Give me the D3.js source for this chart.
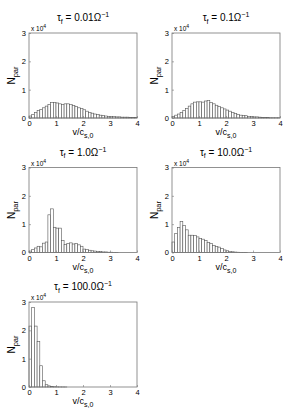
<!DOCTYPE html>
<html><head><meta charset="utf-8">
<script src="https://cdn.jsdelivr.net/npm/d3@7"></script>
<style>body{margin:0;background:#fff;} text{font-family:"Liberation Sans",Arial,sans-serif;}</style>
</head><body>
<svg id="c" width="293" height="419"></svg>
<script>
// bin left edges (v/c_s,0), bin width 0.1
const binEdges = [0.0,0.1,0.2,0.3,0.4,0.5,0.6,0.7,0.8,0.9,1.0,1.1,1.2,1.3,1.4,1.5,1.6,1.7,1.8,1.9,
                  2.0,2.1,2.2,2.3,2.4,2.5,2.6,2.7,2.8,2.9,3.0,3.1,3.2,3.3,3.4,3.5,3.6,3.7,3.8,3.9];
const binWidth = 0.1;
// counts in units of 1e4
const tau001 = [0.07,0.12,0.20,0.26,0.30,0.36,0.42,0.48,0.55,0.55,0.53,0.50,0.48,0.50,0.50,0.47,0.44,0.40,0.36,0.33,
                0.29,0.24,0.20,0.17,0.14,0.12,0.10,0.09,0.07,0.06,0.05,0.05,0.04,0.04,0.03,0.03,0.03,0.02,0.02,0.02];
const tau01  = [0.06,0.10,0.14,0.20,0.27,0.34,0.42,0.50,0.56,0.57,0.57,0.56,0.60,0.62,0.55,0.50,0.45,0.40,0.36,0.32,
                0.28,0.24,0.20,0.16,0.13,0.10,0.09,0.08,0.06,0.05,0.04,0.04,0.03,0.02,0.02,0.02,0.01,0.01,0.01,0.01];
const tau1   = [0.05,0.10,0.16,0.22,0.20,0.33,0.37,1.33,1.54,0.89,0.86,0.86,0.42,0.28,0.32,0.34,0.30,0.32,0.27,0.22,
                0.12,0.10,0.08,0.06,0.05,0.04,0.03,0.02,0.02,0.01,0.01,0.005,0.005,0,0,0,0,0,0,0];
const tau10  = [0.37,0.67,0.88,1.09,0.96,0.80,0.61,0.61,0.60,0.55,0.50,0.47,0.42,0.36,0.32,0.25,0.21,0.19,0.14,0.09,
                0.06,0.04,0.025,0.015,0.01,0.005,0.005,0.003,0,0,0,0,0,0,0,0,0,0,0,0];
const tau100 = [2.15,2.80,2.15,1.60,0.75,0.22,0.08,0.04,0.02,0.01,0.005,0.003,0.002,0.001,0,0,0,0,0,0,
                0,0,0,0,0,0,0,0,0,0,0,0,0,0,0,0,0,0,0,0];
const tauLabels = ["0.01","0.1","1.0","10.0","100.0"];
const xTicks = [0,1,2,3,4];
const yTicks = [0,1,2,3];
const series = [tau001, tau01, tau1, tau10, tau100];

const svg = d3.select("#c");
const W = 108, H = 85;
const lefts = [29, 172];
const tops = [33, 167.5, 302];

series.forEach((vals, i) => {
  const col = i % 2, row = Math.floor(i / 2);
  const x0 = lefts[col], y0 = tops[row];
  const x = d3.scaleLinear().domain([0, 4]).range([x0, x0 + W]);
  const y = d3.scaleLinear().domain([0, 3]).range([y0 + H, y0]);
  const g = svg.append("g");

  // bars
  g.selectAll("rect").data(binEdges.map((e, k) => ({e, v: vals[k]}))).join("rect")
    .attr("x", d => x(d.e)).attr("width", x(binWidth) - x(0))
    .attr("y", d => y(d.v)).attr("height", d => y(0) - y(d.v))
    .attr("fill", "#fff").attr("stroke", "#555").attr("stroke-width", 0.6);

  // box
  g.append("rect").attr("x", x0).attr("y", y0).attr("width", W).attr("height", H)
    .attr("fill", "none").attr("stroke", "#777").attr("stroke-width", 0.8);

  // axes with inward ticks
  const xa = g.append("g").attr("transform", `translate(0,${y0 + H})`)
    .call(d3.axisBottom(x).tickValues(xTicks).tickSize(-2).tickPadding(3).tickFormat(d3.format("d")));
  const ya = g.append("g").attr("transform", `translate(${x0},0)`)
    .call(d3.axisLeft(y).tickValues(yTicks).tickSize(-2).tickPadding(3).tickFormat(d3.format("d")));
  [xa, ya].forEach(a => {
    a.select(".domain").remove();
    a.selectAll("line").attr("stroke", "#777").attr("stroke-width", 0.6);
    a.selectAll("text").attr("font-size", 7.5).attr("fill", "#000")
      .style("font-family", '"Liberation Sans",Arial,sans-serif');
  });

  // exponent
  const ex = g.append("text").attr("x", x0 + 2).attr("y", y0 - 2).attr("font-size", 6.5).attr("fill", "#000");
  ex.append("tspan").text("x 10");
  ex.append("tspan").attr("font-size", 5).attr("dy", -3).text("4");

  // title
  const t = g.append("text").attr("x", x0 + W / 2).attr("y", y0 - 12).attr("text-anchor", "middle")
    .attr("font-size", 10).attr("fill", "#000");
  t.append("tspan").text("τ");
  t.append("tspan").attr("font-size", 7).attr("dy", 2.5).text("f");
  t.append("tspan").attr("dy", -2.5).text(" = " + tauLabels[i] + "Ω");
  t.append("tspan").attr("font-size", 7).attr("dy", -4).text("−1");

  // x label
  const xl = g.append("text").attr("x", x0 + W / 2).attr("y", y0 + H + 17).attr("text-anchor", "middle")
    .attr("font-size", 9).attr("fill", "#000");
  xl.append("tspan").text("v/c");
  xl.append("tspan").attr("font-size", 7).attr("dy", 3).text("s,0");

  // y label
  const yl = g.append("text").attr("transform", `translate(${x0 - 14},${y0 + H / 2}) rotate(-90)`)
    .attr("text-anchor", "middle").attr("font-size", 10).attr("fill", "#000");
  yl.append("tspan").text("N");
  yl.append("tspan").attr("font-size", 7.5).attr("dy", 3).text("par");
});
</script>
</body></html>
